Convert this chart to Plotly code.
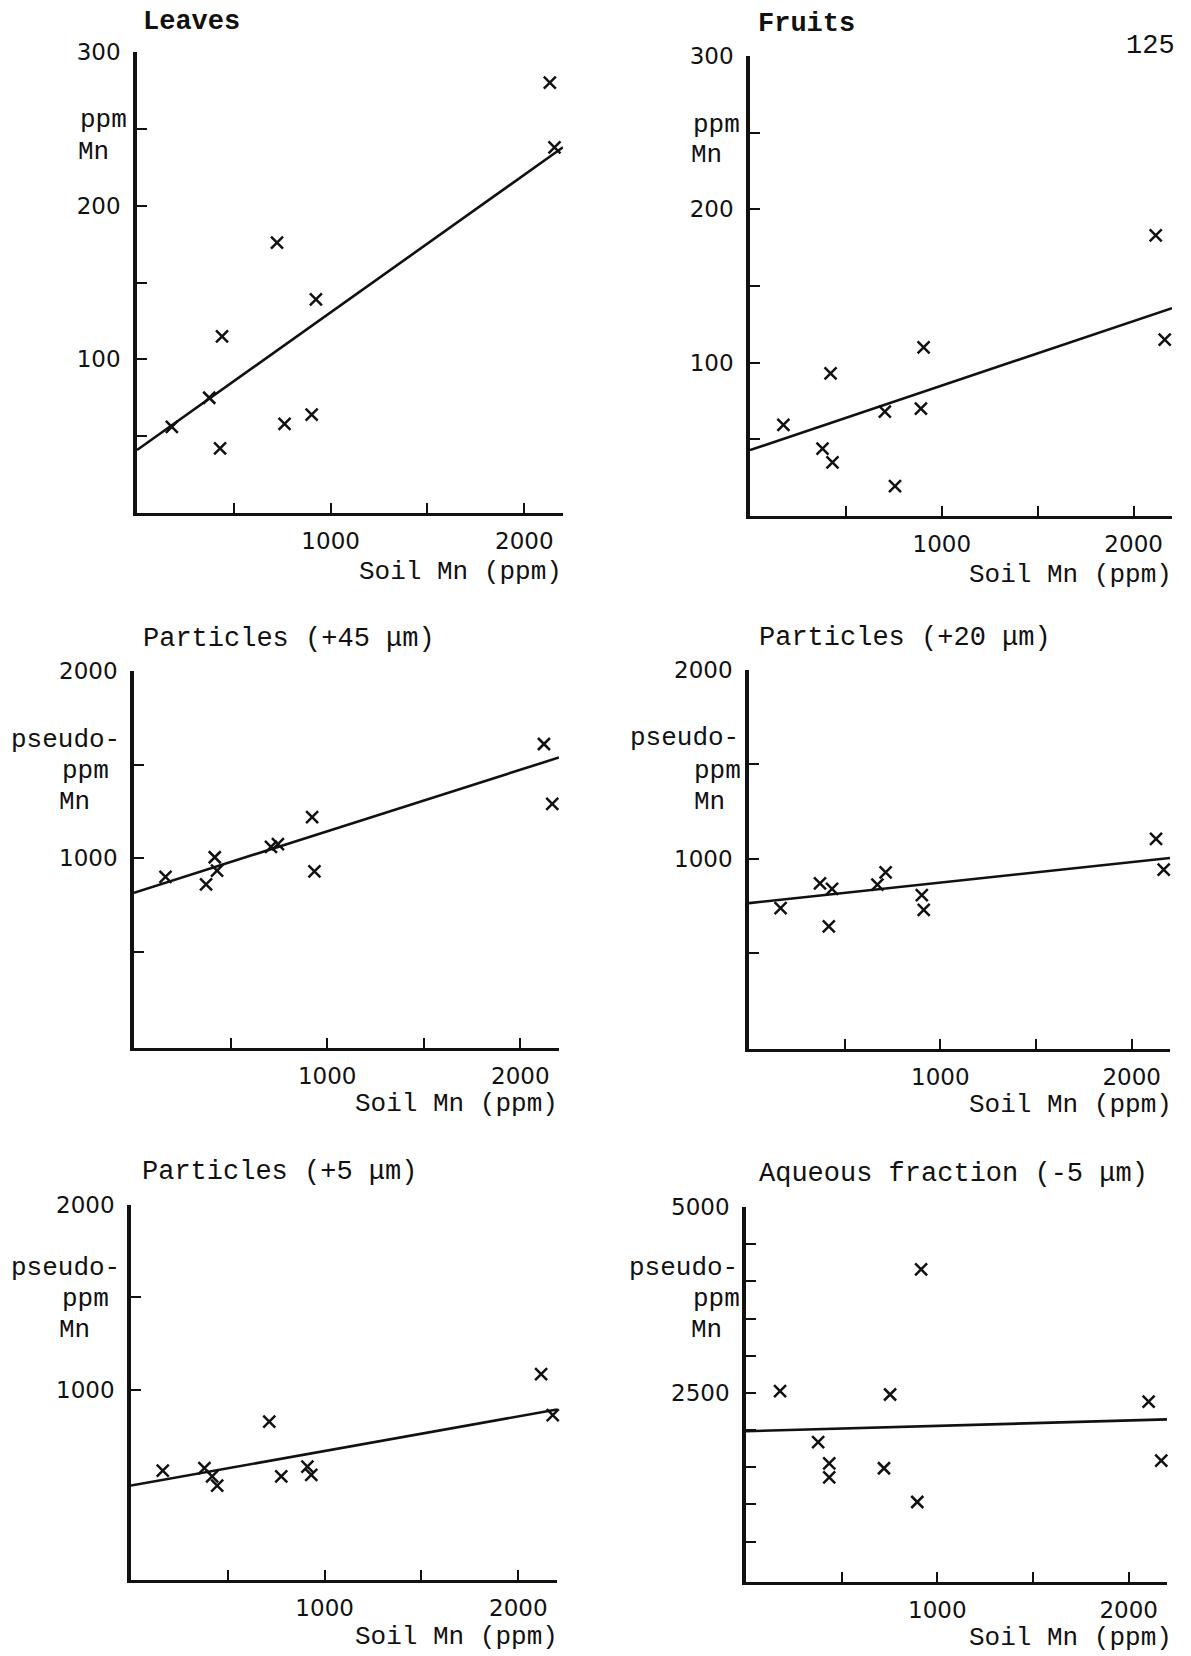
import plotly.graph_objects as go

W, H = 1191, 1656

# ---------------- data ----------------
leaves_soil = [180, 373, 429, 439, 723, 762, 902, 924, 2132, 2156]
leaves_mn = [56, 75, 42, 115, 176, 58, 64, 139, 280, 238]
leaves_fit_x = [0, 2200]
leaves_fit_y = [41, 238]

fruits_soil = [174, 378, 420, 430, 703, 756, 891, 905, 2115, 2162]
fruits_mn = [59.5, 44, 93, 35, 68, 19.5, 70, 110, 183, 115]
fruits_fit_x = [0, 2200]
fruits_fit_y = [43, 135.5]

p45_soil = [163, 373, 418, 430, 709, 745, 922, 934, 2122, 2165]
p45_mn = [900, 860, 1005, 933, 1060, 1075, 1220, 930, 1610, 1290]
p45_fit_x = [0, 2200]
p45_fit_y = [815, 1538]

p20_soil = [165, 371, 417, 434, 671, 714, 903, 913, 2127, 2167]
p20_mn = [738, 870, 642, 841, 863, 928, 807, 729, 1105, 942]
p20_fit_x = [0, 2200]
p20_fit_y = [765, 1004]

p5_soil = [164, 379, 419, 445, 714, 776, 911, 931, 2118, 2178]
p5_mn = [564, 577, 533, 483, 829, 533, 585, 541, 1085, 864]
p5_fit_x = [0, 2200]
p5_fit_y = [483, 894]

aq_soil = [178, 377, 435, 435, 721, 753, 895, 915, 2104, 2170]
aq_mn = [2522, 1839, 1552, 1362, 1486, 2478, 1032, 4162, 2381, 1587]
aq_fit_x = [0, 2200]
aq_fit_y = [1984, 2143]

x_tickvals = [500, 1000, 1500, 2000]
x_ticktext = ["", "1000", "", "2000"]

panels = [
    dict(title="Leaves", bold=True, soil=leaves_soil, mn=leaves_mn, fx=leaves_fit_x, fy=leaves_fit_y,
         yrange=[0, 300], ytv=[50, 100, 150, 200, 250, 300], ytt=["", "100", "", "200", "", "300"],
         ylab=["ppm", "Mn"]),
    dict(title="Fruits", bold=True, soil=fruits_soil, mn=fruits_mn, fx=fruits_fit_x, fy=fruits_fit_y,
         yrange=[0, 300], ytv=[50, 100, 150, 200, 250, 300], ytt=["", "100", "", "200", "", "300"],
         ylab=["ppm", "Mn"]),
    dict(title="Particles (+45 μm)", bold=False, soil=p45_soil, mn=p45_mn, fx=p45_fit_x, fy=p45_fit_y,
         yrange=[-14, 2000], ytv=[500, 1000, 1500, 2000], ytt=["", "1000", "", "2000"],
         ylab=["pseudo-", "ppm", "Mn"]),
    dict(title="Particles (+20 μm)", bold=False, soil=p20_soil, mn=p20_mn, fx=p20_fit_x, fy=p20_fit_y,
         yrange=[-8, 2000], ytv=[500, 1000, 1500, 2000], ytt=["", "1000", "", "2000"],
         ylab=["pseudo-", "ppm", "Mn"]),
    dict(title="Particles (+5 μm)", bold=False, soil=p5_soil, mn=p5_mn, fx=p5_fit_x, fy=p5_fit_y,
         yrange=[-28, 2000], ytv=[1000, 1500, 2000], ytt=["1000", "", "2000"],
         ylab=["pseudo-", "ppm", "Mn"]),
    dict(title="Aqueous fraction (-5 μm)", bold=False, soil=aq_soil, mn=aq_mn, fx=aq_fit_x, fy=aq_fit_y,
         yrange=[-44, 5000], ytv=[500, 1000, 1500, 2000, 2500, 3000, 3500, 4000, 4500, 5000],
         ytt=["", "", "", "", "2500", "", "", "", "", "5000"],
         ylab=["pseudo-", "ppm", "Mn"]),
]

# ---------------- layout geometry (pixels) ----------------
# plot-area boxes: (left, right, top, bottom)
boxes = [
    (137, 563, 52, 513),
    (750, 1172, 56, 516),
    (134, 559, 671, 1048),
    (749, 1170, 670, 1049),
    (131, 557, 1205, 1580),
    (746, 1167, 1207, 1582),
]
title_pos = [(141, 22), (756, 24), (141, 639), (757, 638), (140, 1172), (757, 1174)]
ylab_pos = [
    [(78, 120), (76, 152)],
    [(691, 125), (689, 155)],
    [(9, 740), (60, 771), (57, 802)],
    [(628, 738), (692, 771), (692, 802)],
    [(9, 1268), (60, 1299), (57, 1330)],
    [(627, 1268), (691, 1299), (689, 1330)],
]
xlab_pos = [(564, 572), (1174, 575), (560, 1104), (1174, 1105), (560, 1637), (1174, 1638)]

INK = "#111111"
MONO = "Liberation Mono"
NUM = "DejaVu Sans"


def px(x):
    return x / W


def py(y):
    return 1 - y / H


fig = go.Figure()
layout = dict(
    width=W, height=H, margin=dict(l=0, r=0, t=0, b=0, pad=0, autoexpand=False),
    paper_bgcolor="white", plot_bgcolor="white", showlegend=False,
)
annotations = []

for i, p in enumerate(panels):
    n = i + 1
    xa = "x" if n == 1 else f"x{n}"
    ya = "y" if n == 1 else f"y{n}"
    l, r, t, b = boxes[i]

    fig.add_trace(go.Scatter(
        x=p["fx"], y=p["fy"], mode="lines", xaxis=xa, yaxis=ya,
        line=dict(color=INK, width=2.6), hoverinfo="skip"))
    fig.add_trace(go.Scatter(
        x=p["soil"], y=p["mn"], mode="markers", xaxis=xa, yaxis=ya, cliponaxis=False,
        marker=dict(symbol="x-thin", size=12, color=INK, line=dict(color=INK, width=2.5))))

    layout[f"xaxis{n if n > 1 else ''}"] = dict(
        domain=[px(l), px(r)], range=[0, 2200], anchor=ya, automargin=False,
        showline=True, linewidth=3, linecolor=INK, mirror=False,
        ticks="inside", ticklen=10, tickwidth=2, tickcolor=INK,
        tickvals=x_tickvals, ticktext=x_ticktext, ticklabelstandoff=5,
        tickfont=dict(family=NUM, size=23, color=INK),
        showgrid=False, zeroline=False, fixedrange=True)
    layout[f"yaxis{n if n > 1 else ''}"] = dict(
        domain=[py(b), py(t)], range=p["yrange"], anchor=xa, automargin=False,
        showline=True, linewidth=3.5, linecolor=INK, mirror=False,
        ticks="inside", ticklen=10, tickwidth=2, tickcolor=INK,
        tickvals=p["ytv"], ticktext=p["ytt"], ticklabelstandoff=8,
        tickfont=dict(family=NUM, size=23, color=INK),
        showgrid=False, zeroline=False, fixedrange=True)

    tx, ty = title_pos[i]
    annotations.append(dict(
        text=f"<b>{p['title']}</b>" if p["bold"] else p["title"],
        x=px(tx), y=py(ty), xref="paper", yref="paper", xanchor="left", yanchor="middle",
        showarrow=False, font=dict(family=MONO, size=27, color=INK)))
    for (lx, ly), s in zip(ylab_pos[i], p["ylab"]):
        annotations.append(dict(
            text=s, x=px(lx), y=py(ly), xref="paper", yref="paper", xanchor="left", yanchor="middle",
            showarrow=False, font=dict(family=MONO, size=26, color=INK)))
    sx, sy = xlab_pos[i]
    annotations.append(dict(
        text="Soil Mn (ppm)", x=px(sx), y=py(sy), xref="paper", yref="paper",
        xanchor="right", yanchor="middle", showarrow=False,
        font=dict(family=MONO, size=26, color=INK)))

# page number
annotations.append(dict(
    text="125", x=px(1124), y=py(46), xref="paper", yref="paper", xanchor="left", yanchor="middle",
    showarrow=False, font=dict(family=MONO, size=27, color=INK)))

layout["annotations"] = annotations
fig.update_layout(**layout)
fig.write_html("out.html")
